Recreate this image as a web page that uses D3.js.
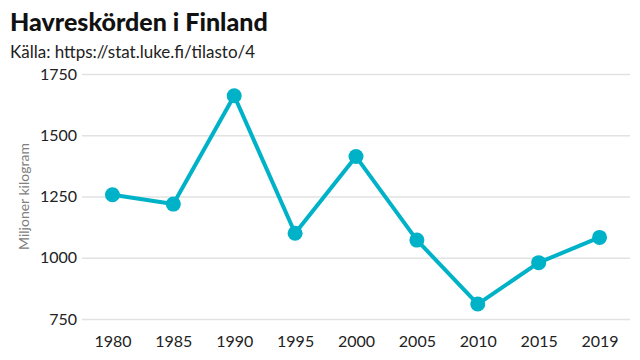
<!DOCTYPE html>
<html><head><meta charset="utf-8">
<script src="https://cdn.jsdelivr.net/npm/d3@7"></script>
<style>body{margin:0;background:#fff}svg{display:block}</style>
</head><body>
<svg id="c" width="640" height="360"></svg>
<script>
const years = ["1980","1985","1990","1995","2000","2005","2010","2015","2019"];
const harvest = [1257, 1219, 1661, 1100, 1413, 1072, 811, 980, 1083];
const yTicks = [750, 1000, 1250, 1500, 1750];
const title = "Havreskörden i Finland";
const subtitle = "Källa: https://stat.luke.fi/tilasto/4";
const yLabel = "Miljoner kilogram";

const svg = d3.select("#c");
const font = "Lato, sans-serif";
const color = "#00b2c8";
const mLeft = 82, mRight = 630, mTop = 74, mBottom = 319;

const x = d3.scalePoint().domain(years).range([mLeft, mRight]).padding(0.5);
const y = d3.scaleLinear().domain([750, 1750]).range([mBottom, mTop]);

svg.append("text").attr("x", 10).attr("y", 31).text(title)
  .attr("font-family", font).attr("font-weight", "900").attr("font-size", 25).attr("fill", "#111");
svg.append("text").attr("x", 10).attr("y", 58).text(subtitle)
  .attr("font-family", font).attr("font-size", 17).attr("fill", "#222");

const yAxis = svg.append("g").attr("transform", `translate(${mLeft},0)`)
  .call(d3.axisLeft(y).tickValues(yTicks).tickFormat(d3.format("d")).tickSize(-(mRight - mLeft)).tickPadding(5));
yAxis.select(".domain").remove();
yAxis.selectAll(".tick line").attr("stroke", "#e2e2e2").attr("stroke-width", 1.5);
yAxis.selectAll(".tick text").attr("font-family", font).attr("font-size", 16).attr("fill", "#222");

const xAxis = svg.append("g").attr("transform", `translate(0,${mBottom})`)
  .call(d3.axisBottom(x).tickSize(0).tickPadding(17));
xAxis.select(".domain").remove();
xAxis.selectAll(".tick text").attr("font-family", font).attr("font-size", 16).attr("fill", "#222");

svg.append("text").attr("transform", `translate(29,${(mTop + mBottom) / 2}) rotate(-90)`)
  .attr("text-anchor", "middle").text(yLabel)
  .attr("font-family", font).attr("font-size", 14).attr("fill", "#808080");

const data = years.map((yr, i) => ({yr, v: harvest[i]}));
svg.append("path").datum(data)
  .attr("d", d3.line().x(d => x(d.yr)).y(d => y(d.v)))
  .attr("fill", "none").attr("stroke", color).attr("stroke-width", 4).attr("stroke-linejoin", "round");
svg.selectAll("circle.pt").data(data).join("circle").attr("class", "pt")
  .attr("cx", d => x(d.yr)).attr("cy", d => y(d.v)).attr("r", 7.5).attr("fill", color);
</script>
</body></html>
